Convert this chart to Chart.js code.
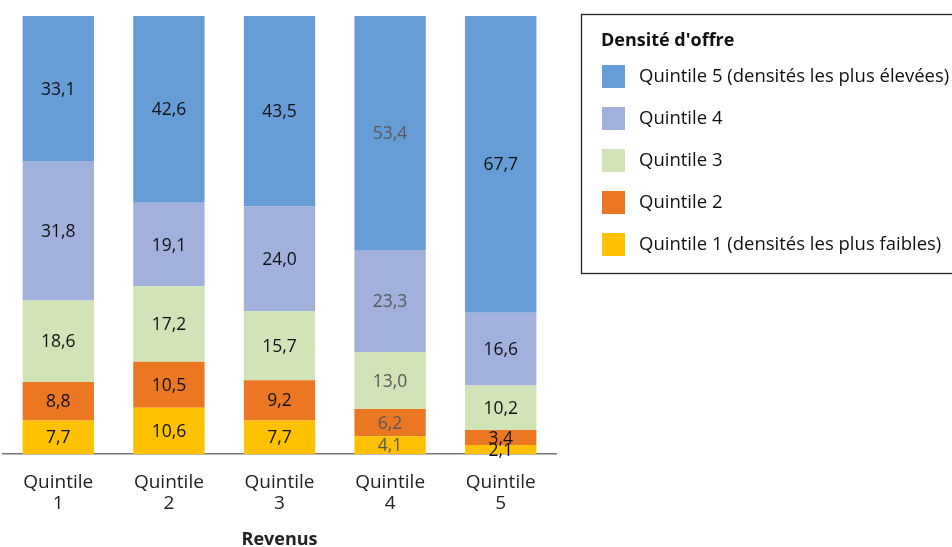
<!DOCTYPE html>
<html>
<head>
<meta charset="utf-8">
<script src="https://cdn.jsdelivr.net/npm/chart.js@4"></script>
<style>
  html, body { margin: 0; padding: 0; background: #fff; }
  #wrap { width: 952px; height: 547px; position: relative; }
</style>
</head>
<body>
<div id="wrap"><canvas id="chart"></canvas></div>
<script>
const categories = [["Quintile", "1"], ["Quintile", "2"], ["Quintile", "3"], ["Quintile", "4"], ["Quintile", "5"]];
const q1 = [7.7, 10.6, 7.7, 4.1, 2.1];
const q2 = [8.8, 10.5, 9.2, 6.2, 3.4];
const q3 = [18.6, 17.2, 15.7, 13.0, 10.2];
const q4 = [31.8, 19.1, 24.0, 23.3, 16.6];
const q5 = [33.1, 42.6, 43.5, 53.4, 67.7];
const seriesNames = [
    "Quintile 1 (densités les plus faibles)",
    "Quintile 2",
    "Quintile 3",
    "Quintile 4",
    "Quintile 5 (densités les plus élevées)"
];
const colors = ["#fdc100", "#ec7723", "#d2e3b8", "#a1b1db", "#679dd6"];
const legendTitle = "Densité d'offre";
const axisTitle = "Revenus";

const FONT = "'Open Sans', 'Noto Sans', sans-serif";

// labels in the middle of each segment
const barLabels = {
    id: "barLabels",
    afterDatasetsDraw(chart) {
        const ctx = chart.ctx;
        ctx.save();
        ctx.font = "17.5px " + FONT;
        ctx.textAlign = "center";
        ctx.textBaseline = "middle";
        chart.data.datasets.forEach((ds, di) => {
            const meta = chart.getDatasetMeta(di);
            meta.data.forEach((bar, i) => {
                ctx.fillStyle = i === 3 ? "#595959" : "#111";
                const txt = ds.data[i].toFixed(1).replace(".", ",");
                ctx.fillText(txt, bar.x, (bar.y + bar.base) / 2 + 1);
            });
        });
        ctx.restore();
    }
};

// legend box at the right + axis title under the ticks
const boxLegend = {
    id: "boxLegend",
    afterDraw(chart) {
        const ctx = chart.ctx;
        const area = chart.chartArea;
        ctx.save();
        ctx.strokeStyle = "#222";
        ctx.lineWidth = 1.3;
        ctx.strokeRect(581.5, 14.5, 380, 259);
        ctx.fillStyle = "#111";
        ctx.textBaseline = "middle";
        ctx.textAlign = "left";
        ctx.font = "bold 18px " + FONT;
        ctx.fillText(legendTitle, 601, 41);
        ctx.font = "18.5px " + FONT;
        for (let k = 0; k < 5; k++) {
            const idx = 4 - k;
            const cy = 76 + k * 42;
            ctx.fillStyle = colors[idx];
            ctx.fillRect(602, cy - 11, 23, 23);
            ctx.fillStyle = "#111";
            ctx.fillText(seriesNames[idx], 639, cy + 1);
        }
        ctx.textAlign = "center";
        ctx.fillStyle = "#222";
        ctx.font = "bold 18px " + FONT;
        ctx.fillText(axisTitle, (area.left + area.right) / 2, 540);
        ctx.restore();
    }
};

const series = [q1, q2, q3, q4, q5];

new Chart(document.getElementById("chart"), {
    type: "bar",
    data: {
        labels: categories,
        datasets: series.map((vals, i) => ({
            label: seriesNames[i],
            data: vals,
            backgroundColor: colors[i],
            borderWidth: 0,
            barPercentage: 0.645,
            categoryPercentage: 1
        }))
    },
    options: {
        responsive: true,
        maintainAspectRatio: false,
        animation: false,
        layout: { padding: { left: 3, right: 396, top: 16, bottom: 15 } },
        scales: {
            x: {
                stacked: true,
                grid: { display: false, drawTicks: false },
                border: { display: true, color: "#777", width: 1.5 },
                ticks: {
                    color: "#222",
                    font: { family: FONT, size: 19, lineHeight: 1.1 },
                    padding: 18,
                    maxRotation: 0
                }
            },
            y: {
                stacked: true,
                display: false,
                min: 0,
                max: 100
            }
        },
        plugins: {
            legend: { display: false },
            tooltip: { enabled: false }
        }
    },
    plugins: [barLabels, boxLegend]
});
</script>
</body>
</html>
